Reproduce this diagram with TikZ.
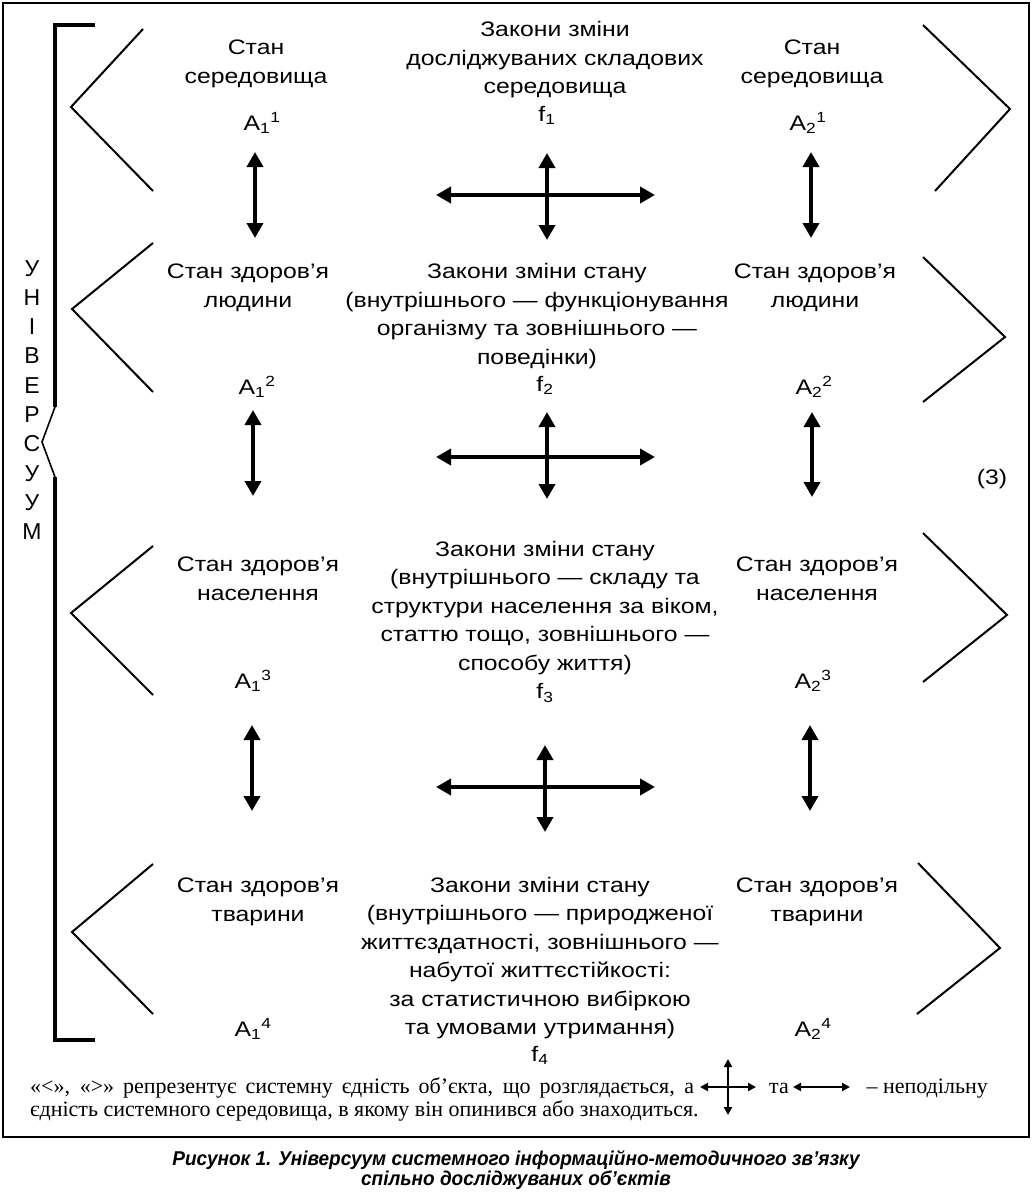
\documentclass[tikz,border=0pt]{standalone}
\usepackage{fontspec}
\setmainfont{Liberation Sans}[FakeStretch=1.18]
\newfontfamily\plainsans{Liberation Sans}
\newfontfamily\notefont{Liberation Serif}[FakeStretch=1.0]
\newfontfamily\capfont{Liberation Sans}[FakeStretch=0.95]
\usetikzlibrary{arrows.meta,calc}
\begin{document}
\begin{tikzpicture}[x=1pt,y=-1pt,
  txt/.style={align=center,inner sep=0pt,font=\fontsize{21}{28.5}\selectfont},
  lbl/.style={inner sep=0pt,font=\fontsize{21}{24}\selectfont},
  note/.style={inner sep=0pt,font=\notefont\fontsize{22}{23}\selectfont},
  capt/.style={inner sep=0pt,align=center,font=\capfont\bfseries\itshape\fontsize{20}{20.5}\selectfont},
  ang/.style={line width=2pt,line join=miter},
  brk/.style={line width=3.3pt},
  dbl/.style={{Triangle[length=15pt,width=16pt]}-{Triangle[length=15pt,width=16pt]},line width=3.6pt},
  sdbl/.style={{Triangle[length=8pt,width=8pt]}-{Triangle[length=8pt,width=8pt]},line width=2pt}]
\useasboundingbox (0,0) rectangle (1033,1192);
\fill[white] (0,0) rectangle (1033,1192);
% outer frame
\draw[line width=1.2pt] (3,3) rectangle (1029,1137);
% bracket
\draw[brk] (95,25) -- (55,25) -- (55,407);
\draw[line width=1.6pt] (55,407) -- (42,442) -- (55,477);
\draw[brk] (55,477) -- (55,1040) -- (95,1040);
\node[inner sep=0pt,align=center,font=\plainsans\fontsize{23}{29.3}\selectfont] (univ) at (32,400) {У\\Н\\І\\В\\Е\\Р\\С\\У\\У\\М};
% angle brackets left
\draw[ang] (143,29) -- (71,107) -- (153,191);
\draw[ang] (153,243) -- (72,309) -- (153,392);
\draw[ang] (153,546) -- (71,613) -- (153,695);
\draw[ang] (153,864) -- (72,932) -- (153,1014);
% angle brackets right
\draw[ang] (923,25) -- (1010,109) -- (935,191);
\draw[ang] (923,257) -- (1005,337) -- (923,402);
\draw[ang] (923,533) -- (1007,615) -- (923,682);
\draw[ang] (918,863) -- (1000,948) -- (917,1014);
% row 1
\node[txt] (L1) at (256,64) {Стан\\середовища};
\node[txt] (M1) at (555,60) {Закони зміни\\досліджуваних складових\\середовища};
\node[txt] (R1) at (812,64) {Стан\\середовища};
\node[lbl] (f1) at (547,115) {f\textsubscript{1}};
\node[lbl] (A11) at (262,123) {A\textsubscript{1}\textsuperscript{1}};
\node[lbl] (A21) at (808,123) {A\textsubscript{2}\textsuperscript{1}};
% row 2
\node[txt] (L2) at (248,288) {Стан здоров’я\\людини};
\node[txt] (M2) at (537,316) {Закони зміни стану\\(внутрішнього — функціонування\\організму та зовнішнього —\\поведінки)};
\node[txt] (R2) at (815,288) {Стан здоров’я\\людини};
\node[lbl] (f2) at (545,385) {f\textsubscript{2}};
\node[lbl] (A12) at (257,387) {A\textsubscript{1}\textsuperscript{2}};
\node[lbl] (A22) at (814,387) {A\textsubscript{2}\textsuperscript{2}};
% row 3
\node[txt] (L3) at (258,579) {Стан здоров’я\\населення};
\node[txt] (M3) at (545,608) {Закони зміни стану\\(внутрішнього — складу та\\структури населення за віком,\\статтю тощо, зовнішнього —\\способу життя)};
\node[txt] (R3) at (817,579) {Стан здоров’я\\населення};
\node[lbl] (f3) at (545,693) {f\textsubscript{3}};
\node[lbl] (A13) at (253,681) {A\textsubscript{1}\textsuperscript{3}};
\node[lbl] (A23) at (813,681) {A\textsubscript{2}\textsuperscript{3}};
% row 4
\node[txt] (L4) at (258,902) {Стан здоров’я\\тварини};
\node[txt] (M4) at (540,958) {Закони зміни стану\\(внутрішнього — природженої\\життєздатності, зовнішнього —\\набутої життєстійкості:\\за статистичною вибіркою\\та умовами утримання)};
\node[txt] (R4) at (817,902) {Стан здоров’я\\тварини};
\node[lbl] (f4) at (540,1055) {f\textsubscript{4}};
\node[lbl] (A14) at (253,1029) {A\textsubscript{1}\textsuperscript{4}};
\node[lbl] (A24) at (813,1029) {A\textsubscript{2}\textsuperscript{4}};
\node[lbl] (eq) at (992,479) {(3)};
% arrow end points
\coordinate (v1la) at (255,152); \coordinate (v1lb) at (255,238);
\coordinate (v1ra) at (811,152); \coordinate (v1rb) at (811,238);
\coordinate (h1a) at (436,195); \coordinate (h1b) at (655,195);
\coordinate (c1a) at (547,153); \coordinate (c1b) at (547,240);
\coordinate (v2la) at (253,410); \coordinate (v2lb) at (253,496);
\coordinate (v2ra) at (812,412); \coordinate (v2rb) at (812,497);
\coordinate (h2a) at (436,457); \coordinate (h2b) at (655,457);
\coordinate (c2a) at (547,412); \coordinate (c2b) at (547,499);
\coordinate (v3la) at (252,725); \coordinate (v3lb) at (252,811);
\coordinate (v3ra) at (810,725); \coordinate (v3rb) at (810,811);
\coordinate (h3a) at (436,787); \coordinate (h3b) at (655,787);
\coordinate (c3a) at (545,745); \coordinate (c3b) at (545,832);
\foreach \a/\b in {v1la/v1lb,v1ra/v1rb,h1a/h1b,c1a/c1b,v2la/v2lb,v2ra/v2rb,h2a/h2b,c2a/c2b,v3la/v3lb,v3ra/v3rb,h3a/h3b,c3a/c3b}
  \draw[dbl] (\a) -- (\b);
% footnote
\node[note,anchor=base west] (n1) at (30,1093) {\hbox to 664pt{«<», «>» репрезентує системну єдність об’єкта, що розглядається, а}};
\coordinate (fc) at (728,1087);
\draw[sdbl] ($(fc)+(-28,0)$) -- ($(fc)+(28,0)$);
\draw[sdbl] ($(fc)+(0,-28)$) -- ($(fc)+(0,28)$);
\node[note,anchor=base west] (n2) at (769,1093) {та};
\coordinate (fd) at (793,1087);
\draw[sdbl] (fd) -- ($(fd)+(57,0)$);
\node[note,anchor=base east] (n3) at (988,1093) {– неподільну};
\node[note,anchor=base west] (n4) at (30,1116) {єдність системного середовища, в якому він опинився або знаходиться.};
% caption
\node[capt] (cap) at (516,1170) {Рисунок 1. Універсуум системного інформаційно-методичного зв’язку\\спільно досліджуваних об’єктів};
\end{tikzpicture}
\end{document}
